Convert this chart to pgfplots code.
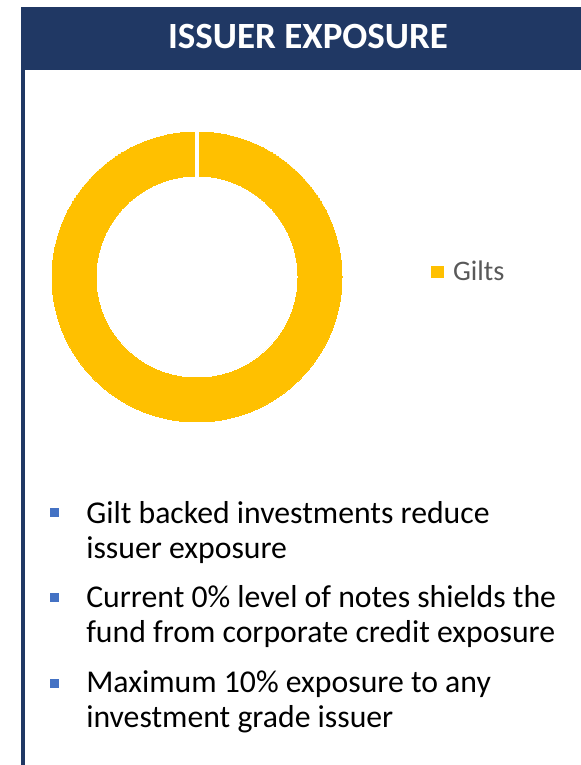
\documentclass[border=0pt]{standalone}
\usepackage{fontspec}
\setmainfont{Carlito}
\usepackage{pgfplots}
\pgfplotsset{compat=1.18}
\usepackage{pgfplotstable}
\definecolor{navy}{HTML}{203864}
\definecolor{gilts}{HTML}{FFC000}
\definecolor{bulletblue}{HTML}{4472C4}
\definecolor{legendtext}{HTML}{595959}
\newcommand\bulletfont{\fontsize{23.8}{26}\selectfont}

% issuer exposure (percent of fund)
\pgfplotstableread{
label value
Gilts 100
}\exposure

\begin{document}
\begin{tikzpicture}
\begin{axis}[
  at={(0,0)}, anchor=south west,
  width=435.75pt, height=573.75pt, scale only axis,
  xmin=0, xmax=581, ymin=0, ymax=765,
  hide axis, clip=false, clip marker paths=true,
  legend style={at={(0.735,0.6448)}, anchor=west, draw=none, fill=none,
    font=\fontsize{21.2}{24}\selectfont, text=legendtext},
  legend image code/.code={\fill[gilts] (0pt,-4.3pt) rectangle (8.6pt,4.3pt);
    \path (13.9pt,0pt);},
]
% panel frame and title
\path (axis cs:0,0) rectangle (axis cs:581,765);
\fill[navy] (axis cs:21,695) rectangle (axis cs:581,758);
\fill[navy] (axis cs:21,0) rectangle (axis cs:25,695);
\node[anchor=base, text=white, font=\fontsize{27.75}{30}\selectfont\bfseries]
  at (axis cs:308,716) {ISSUER EXPOSURE};

% doughnut: one slice, 100% gilts
\addplot[only marks, mark=*, mark size=108.75pt,
  mark options={fill=gilts, draw=gilts, line width=0pt}] coordinates {(197,488)};
\addlegendentry{Gilts}
\addplot[forget plot, only marks, mark=*, mark size=75pt,
  mark options={fill=white, draw=white, line width=0pt}] coordinates {(197,488)};
\addplot[forget plot, white, line width=3.4pt] coordinates {(197,586) (197,635)};

% bullets
\fill[bulletblue] (axis cs:50.2,247.5) rectangle (axis cs:59.2,256.5);
\fill[bulletblue] (axis cs:50.2,163) rectangle (axis cs:59.2,172);
\fill[bulletblue] (axis cs:50.2,76.9) rectangle (axis cs:59.2,85.9);
\node[anchor=base west, font=\bulletfont, inner sep=0pt] at (axis cs:86,241) {Gilt backed investments reduce};
\node[anchor=base west, font=\bulletfont, inner sep=0pt] at (axis cs:86,206) {issuer exposure};
\node[anchor=base west, font=\bulletfont, inner sep=0pt] at (axis cs:86,157) {Current 0\% level of notes shields the};
\node[anchor=base west, font=\bulletfont, inner sep=0pt] at (axis cs:86,122) {fund from corporate credit exposure};
\node[anchor=base west, font=\bulletfont, inner sep=0pt] at (axis cs:86,72) {Maximum 10\% exposure to any};
\node[anchor=base west, font=\bulletfont, inner sep=0pt] at (axis cs:86,37) {investment grade issuer};
\end{axis}
\end{tikzpicture}
\end{document}
